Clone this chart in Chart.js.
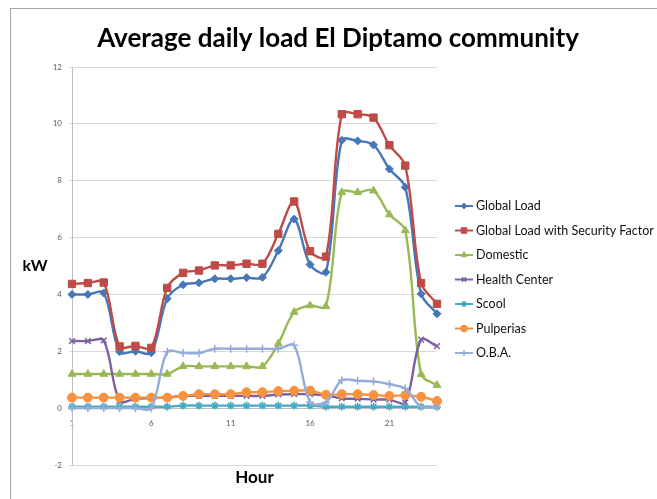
<!DOCTYPE html>
<html>
<head>
<meta charset="utf-8">
<script src="https://cdn.jsdelivr.net/npm/chart.js@4.4.1/dist/chart.umd.min.js"></script>
<style>
  html, body { margin: 0; padding: 0; background: #fff; overflow: hidden; width: 657px; height: 499px; }
  #frame { position: absolute; left: 10px; top: 8px; width: 700px; height: 600px;
           border-left: 1px solid #a6a6a6; border-top: 1px solid #a6a6a6; }
  #c { position: absolute; left: 0; top: 0; }
</style>
</head>
<body>
<div id="frame"><canvas id="c" width="646" height="490"></canvas></div>
<script>
// Hour of the day (category axis)
const hours = ['1','2','3','4','5','6','7','8','9','10','11','12','13','14','15','16','17','18','19','20','21','22','23','24'];
// Hours that carry a visible tick label
const shownHours = ['1','6','11','16','21'];

// Average load per hour, kW
const globalLoad   = [4.00, 4.00, 4.05, 1.98, 2.00, 1.95, 3.85, 4.34, 4.41, 4.55, 4.55, 4.59, 4.60, 5.54, 6.65, 5.05, 4.78, 9.42, 9.40, 9.26, 8.41, 7.77, 4.02, 3.32];
const globalLoadSF = [4.37, 4.40, 4.42, 2.17, 2.19, 2.12, 4.23, 4.76, 4.84, 5.02, 5.02, 5.08, 5.08, 6.13, 7.27, 5.52, 5.33, 10.34, 10.34, 10.22, 9.25, 8.53, 4.40, 3.67];
const domestic     = [1.20, 1.20, 1.20, 1.20, 1.20, 1.20, 1.20, 1.47, 1.47, 1.47, 1.47, 1.47, 1.47, 2.27, 3.38, 3.61, 3.58, 7.59, 7.59, 7.65, 6.81, 6.25, 1.19, 0.81];
const healthCenter = [2.36, 2.36, 2.38, 0.25, 0.33, 0.35, 0.38, 0.43, 0.43, 0.43, 0.43, 0.43, 0.43, 0.48, 0.49, 0.49, 0.45, 0.34, 0.33, 0.30, 0.30, 0.20, 2.41, 2.18];
const school       = [0.05, 0.05, 0.05, 0.05, 0.05, 0.05, 0.05, 0.09, 0.09, 0.09, 0.09, 0.09, 0.09, 0.09, 0.09, 0.09, 0.05, 0.05, 0.05, 0.05, 0.05, 0.05, 0.05, 0.05];
const pulperias    = [0.37, 0.37, 0.37, 0.37, 0.37, 0.37, 0.37, 0.43, 0.49, 0.49, 0.49, 0.56, 0.56, 0.60, 0.61, 0.62, 0.47, 0.49, 0.49, 0.46, 0.43, 0.45, 0.40, 0.25];
const oba          = [0.00, 0.00, 0.00, 0.00, 0.00, 0.00, 1.98, 1.94, 1.94, 2.09, 2.09, 2.09, 2.09, 2.09, 2.21, 0.22, 0.21, 0.98, 0.96, 0.94, 0.84, 0.69, 0.05, 0.05];

const FONT = 'Lato, "Open Sans", sans-serif';

function series(label, data, color, style, radius, markerBorder) {
  return {
    label, data,
    borderColor: color,
    backgroundColor: color,
    borderWidth: 2.4,
    pointStyle: style,
    pointRadius: radius,
    pointHoverRadius: radius,
    pointBackgroundColor: color,
    pointBorderColor: color,
    pointBorderWidth: markerBorder,
    tension: 0.33,
    fill: false
  };
}

const datasets = [
  series('Global Load', globalLoad, '#4677B8', 'rectRot', 4, 1),
  series('Global Load with Security Factor', globalLoadSF, '#BE4B48', 'rect', 5.2, 1),
  series('Domestic', domestic, '#98B954', 'triangle', 4.5, 1),
  series('Health Center', healthCenter, '#7D60A0', 'crossRot', 4, 1.5),
  series('Scool', school, '#46AAC5', 'star', 4, 1.5),
  series('Pulperias', pulperias, '#F69240', 'circle', 4.5, 1),
  series('O.B.A.', oba, '#95ACDA', 'cross', 4, 1.5)
];
// later series are painted over earlier ones
datasets.forEach((d, i) => { d.order = datasets.length - i; });

// Axis titles drawn horizontally beside / below the plot
const axisTitles = {
  id: 'axisTitles',
  afterDraw(chart) {
    const { ctx, chartArea } = chart;
    ctx.save();
    ctx.fillStyle = '#000';
    ctx.textAlign = 'center';
    ctx.textBaseline = 'middle';
    ctx.font = 'bold 16px ' + FONT;
    ctx.fillText('kW', 24, (chartArea.top + chartArea.bottom) / 2);
    ctx.font = 'bold 17px ' + FONT;
    ctx.fillText('Hour', (chartArea.left + chartArea.right) / 2, chartArea.bottom + 13);
    ctx.restore();
  }
};

// Legend: short line with the series marker, then the name
const sideLegend = {
  id: 'sideLegend',
  afterDraw(chart) {
    const { ctx, chartArea } = chart;
    const sets = chart.data.datasets;
    const x0 = chartArea.right + 18;
    const rowH = 24.5;
    const yc = 270.5;
    ctx.save();
    sets.forEach((ds, i) => {
      const y = yc + (i - (sets.length - 1) / 2) * rowH;
      ctx.strokeStyle = ds.borderColor;
      ctx.fillStyle = ds.borderColor;
      ctx.lineWidth = 2;
      ctx.beginPath();
      ctx.moveTo(x0, y);
      ctx.lineTo(x0 + 18, y);
      ctx.stroke();
      ctx.lineWidth = ds.pointBorderWidth;
      Chart.helpers.drawPoint(ctx, {
        pointStyle: ds.pointStyle,
        radius: ds.pointRadius * 0.75,
        borderWidth: ds.pointBorderWidth,
        rotation: 0
      }, x0 + 9, y);
      ctx.fillStyle = '#111';
      ctx.font = '12.5px ' + FONT;
      ctx.textAlign = 'left';
      ctx.textBaseline = 'middle';
      ctx.fillText(ds.label, x0 + 21, y);
    });
    ctx.restore();
  }
};

new Chart(document.getElementById('c'), {
  type: 'line',
  data: { labels: hours, datasets },
  plugins: [axisTitles, sideLegend],
  options: {
    responsive: false,
    animation: false,
    layout: { padding: { left: 8, right: 0, top: 0, bottom: 34 } },
    plugins: {
      legend: { display: false },
      tooltip: { enabled: false },
      title: {
        display: true,
        text: 'Average daily load El Diptamo community',
        color: '#000',
        font: { family: FONT, size: 26, weight: 'bold' },
        padding: { top: 14, bottom: 12.8 }
      }
    },
    scales: {
      x: {
        type: 'category',
        position: { y: 0 },
        grid: { display: false, drawTicks: false },
        border: { display: true, color: '#bfbfbf', width: 1 },
        ticks: {
          autoSkip: false,
          maxRotation: 0,
          padding: 10,
          color: '#595959',
          font: { family: FONT, size: 8 },
          callback: function (v, i) { return shownHours.includes(hours[i]) ? hours[i] : ''; }
        }
      },
      y: {
        position: 'left',
        min: -2,
        max: 12,
        ticks: { stepSize: 2, padding: 7, color: '#595959', font: { family: FONT, size: 8 } },
        grid: { color: '#d9d9d9', lineWidth: 1, tickLength: 3 },
        border: { color: '#bfbfbf', width: 1 },
        afterFit: function (s) { s.width = 53; }
      },
      legendSpace: {
        type: 'linear',
        position: 'right',
        display: true,
        grid: { display: false },
        border: { display: false },
        ticks: { display: false },
        afterFit: function (s) { s.width = 220; }
      }
    }
  }
});
</script>
</body>
</html>
